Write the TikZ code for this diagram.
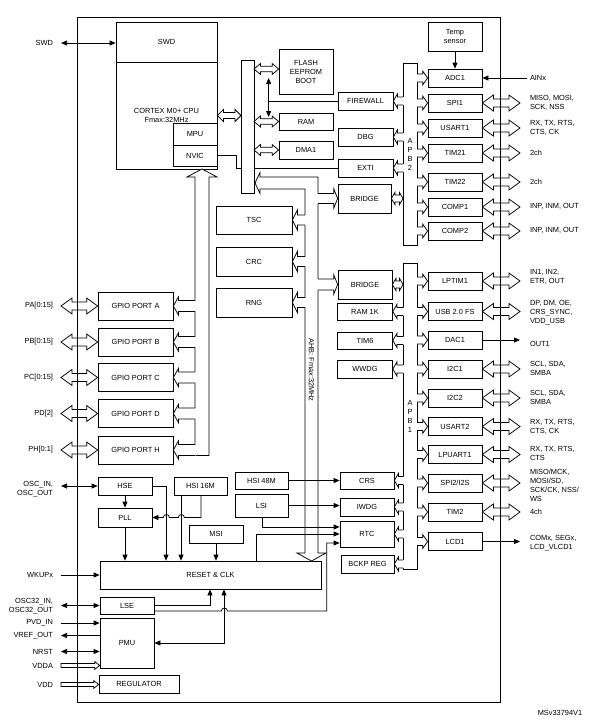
\documentclass[tikz,border=0pt]{standalone}
\usepackage{fontspec}
\setmainfont{Liberation Sans}
\usetikzlibrary{arrows.meta}
\usetikzlibrary{calc}
\usetikzlibrary{positioning}

% hollow bus branch: from #1 (on the bus) to #2 (tip), head length #3, head half width #4, shaft half width #5
\newcommand{\busarrow}[5]{%
  \coordinate (arA) at (#1);
  \coordinate (arB) at (#2);
  \coordinate (arH) at ($(arB)!#3!(arA)$);
  \coordinate (arC) at ($(arA)!1.2pt!180:(arB)$);
  \fill[white] ($(arC)!#5!90:(arB)$) -- ($(arH)!#5!90:(arB)$) -- ($(arH)!#4!90:(arB)$) -- (arB)
    -- ($(arH)!#4!-90:(arB)$) -- ($(arH)!#5!-90:(arB)$) -- ($(arC)!#5!-90:(arB)$) -- cycle;
  \draw ($(arA)!#5!90:(arB)$) -- ($(arH)!#5!90:(arB)$) -- ($(arH)!#4!90:(arB)$) -- (arB)
    -- ($(arH)!#4!-90:(arB)$) -- ($(arH)!#5!-90:(arB)$) -- ($(arA)!#5!-90:(arB)$);
}
% hollow double headed arrow
\newcommand{\dblarrow}[5]{%
  \coordinate (arA) at (#1);
  \coordinate (arB) at (#2);
  \coordinate (arH) at ($(arA)!#3!(arB)$);
  \coordinate (arK) at ($(arB)!#3!(arA)$);
  \filldraw[fill=white] (arA) -- ($(arH)!#4!90:(arB)$) -- ($(arH)!#5!90:(arB)$) -- ($(arK)!#5!-90:(arA)$)
    -- ($(arK)!#4!-90:(arA)$) -- (arB) -- ($(arK)!#4!90:(arA)$) -- ($(arK)!#5!90:(arA)$)
    -- ($(arH)!#5!-90:(arB)$) -- ($(arH)!#4!-90:(arB)$) -- cycle;
}
% hollow single headed supply arrow
\newcommand{\pwrarrow}[5]{%
  \coordinate (arA) at (#1);
  \coordinate (arB) at (#2);
  \coordinate (arH) at ($(arB)!#3!(arA)$);
  \draw ($(arA)!#5!90:(arB)$) -- ($(arH)!#5!90:(arB)$) -- ($(arH)!#4!90:(arB)$) -- (arB)
    -- ($(arH)!#4!-90:(arB)$) -- ($(arH)!#5!-90:(arB)$) -- ($(arA)!#5!-90:(arB)$) -- cycle;
}
\newcommand{\pinarrow}[2]{\dblarrow{#1}{#2}{11pt}{8pt}{4pt}}

\begin{document}
\begin{tikzpicture}[x=1pt, y=-1pt,
      >={Triangle[length=6pt,width=5pt]},
      line width=0.75pt,
      node distance=29pt,
      on grid,
      font=\fontsize{7.4}{9}\selectfont,
      box/.style={draw, fill=white, inner sep=0pt, align=center, minimum height=18pt},
      periph/.style={box, minimum width=54pt},
      gpio/.style={box, minimum width=75pt, minimum height=28pt},
      bus/.style={draw, fill=white, inner sep=0pt, outer sep=0pt, align=center},
      extl/.style={inner sep=0pt, outer xsep=8pt, anchor=east, align=right},
      extr/.style={inner sep=0pt, outer xsep=10pt, anchor=west, align=left}]

    \useasboundingbox (0,0) rectangle (599,723);

    % core
    \node[box, minimum width=101pt, minimum height=40pt]
      (swd) at (166.5,42) {SWD};
    \node[box, minimum width=101pt, minimum height=107pt]
      (cpu) [below=73.5pt of swd] {CORTEX M0+ CPU\\Fmax:32MHz};
    \node[box, minimum width=44pt, minimum height=22pt]
      (mpu) at (195,134) {MPU};
    \node[box, minimum width=44pt, minimum height=21pt]
      (nvic) [below=21.5pt of mpu] {NVIC};

    \node[periph, minimum height=45pt]
      (flash) at (306,71.5) {FLASH\\EEPROM\\BOOT};
    \node[periph, minimum height=17pt]
      (ram) [below=50pt of flash] {RAM};
    \node[periph]
      (dma) [below=28.5pt of ram] {DMA1};
    \node[periph, minimum width=55pt]
      (firewall) at (365.5,101) {FIREWALL};
    \node[periph, minimum width=55pt]
      (dbg) [below=36pt of firewall] {DBG};
    \node[periph, minimum width=55pt]
      (exti) [below=31pt of dbg] {EXTI};
    \node[periph, minimum width=53pt, minimum height=29pt]
      (bridgeA) at (364.5,198.5) {BRIDGE};

    \node[box, minimum width=76pt, minimum height=28pt]
      (tsc) at (254,220) {TSC};
    \node[box, minimum width=76pt, minimum height=29pt]
      (crc) [below=41.5pt of tsc] {CRC};
    \node[box, minimum width=76pt, minimum height=29pt]
      (rng) [below=41pt of crc] {RNG};

    \node[periph, minimum height=29pt]
      (bridgeB) at (365,284.5) {BRIDGE};
    \node[periph, minimum width=55pt, minimum height=17pt]
      (ram1k) [below=27pt of bridgeB] {RAM 1K};
    \node[periph, minimum width=55pt, minimum height=17pt]
      (tim6) [below=of ram1k] {TIM6};
    \node[periph, minimum width=55pt]
      (wwdg) [below=28.5pt of tim6] {WWDG};
    \node[periph, minimum height=17pt]
      (crs) at (367,480.5) {CRS};
    \node[periph]
      (iwdg) [below=26.5pt of crs] {IWDG};
    \node[periph, minimum height=26pt]
      (rtc) [below=27pt of iwdg] {RTC};
    \node[periph, minimum width=53pt]
      (bckp) at (367.5,564) {BCKP REG};
    \node[periph, minimum width=53pt, minimum height=17pt]
      (hsiF) at (261.5,480.5) {HSI 48M};
    \node[periph, minimum width=53pt, minimum height=23pt]
      (lsi) [below=25pt of hsiF] {LSI};

    % APB2 side
    \node[periph, minimum height=29pt]
      (temp) at (455,36.5) {Temp\\sensor};
    \node[periph] (adc) at (455,78) {ADC1};
    \node[periph] (spiA) [below=25pt of adc] {SPI1};
    \node[periph] (usartA) [below=25pt of spiA] {USART1};
    \node[periph] (timA) [below=25pt of usartA] {TIM21};
    \node[periph] (timB) [below=of timA] {TIM22};
    \node[periph] (compA) [below=25pt of timB] {COMP1};
    \node[periph] (compB) [below=24pt of compA] {COMP2};

    % APB1 side
    \node[periph] (lptim) at (455,281) {LPTIM1};
    \node[periph] (usb) [below=30.5pt of lptim] {USB 2.0 FS};
    \node[periph] (dac) [below=28.5pt of usb] {DAC1};
    \node[periph] (i2cA) [below=of dac] {I2C1};
    \node[periph] (i2cB) [below=of i2cA] {I2C2};
    \node[periph] (usartB) [below=28.5pt of i2cB] {USART2};
    \node[periph] (lpuart) [below=28pt of usartB] {LPUART1};
    \node[periph] (spiB) [below=28.5pt of lpuart] {SPI2/I2S};
    \node[periph] (timC) [below=of spiB] {TIM2};
    \node[periph] (lcd) [below=29.5pt of timC] {LCD1};

    % GPIO
    \node[gpio] (gpioA) at (135.5,306) {GPIO PORT A};
    \node[gpio] (gpioB) [below=36pt of gpioA] {GPIO PORT B};
    \node[gpio] (gpioC) [below=35.5pt of gpioB] {GPIO PORT C};
    \node[gpio] (gpioD) [below=36pt of gpioC] {GPIO PORT D};
    \node[gpio] (gpioH) [below=36.5pt of gpioD] {GPIO PORT H};

    % clocks and power
    \node[periph] (hse) at (125,486) {HSE};
    \node[periph, minimum height=19pt] (pll) [below=31.5pt of hse] {PLL};
    \node[periph, minimum width=53pt] (hsiS) at (200.5,486) {HSI 16M};
    \node[periph] (msi) at (216,534) {MSI};
    \node[box, minimum width=221pt, minimum height=28pt] (rcc) at (210.5,575) {RESET \& CLK};
    \node[periph, minimum height=17pt] (lse) at (127,605.5) {LSE};
    \node[periph, minimum height=50pt] (pmu) [below=37.5pt of lse] {PMU};
    \node[box, minimum width=80pt] (reg) at (139,684) {REGULATOR};

    % pins
    \node[extl] (swdl) at (61,43) {SWD};
    \node[extl] (pinA) at (61,306) {PA[0:15]};
    \node[extl] (pinB) at (61,342) {PB[0:15]};
    \node[extl] (pinC) at (61,377.5) {PC[0:15]};
    \node[extl] (pinD) at (61,413.5) {PD[2]};
    \node[extl] (pinH) at (61,450) {PH[0:1]};
    \node[extl] (osc) at (61,489.5) {OSC\_IN,\\OSC\_OUT};
    \node[extl] (wkup) at (61,575) {WKUPx};
    \node[extl] (osct) at (61,606.5) {OSC32\_IN,\\OSC32\_OUT};
    \node[extl] (pvd) at (61,623) {PVD\_IN};
    \node[extl] (vref) at (61,635.5) {VREF\_OUT};
    \node[extl] (nrst) at (61,651.5) {NRST};
    \node[extl] (vdda) at (61,665.5) {VDDA};
    \node[extl] (vdd) at (61,684.5) {VDD};

    \node[extr, outer xsep=3pt] (ainx) at (527,78) {AINx};
    \node[extr] (misoA) at (520,102.5) {MISO, MOSI,\\SCK, NSS};
    \node[extr] (rxA) at (520,128) {RX, TX, RTS,\\CTS, CK};
    \node[extr] (chA) at (520,153) {2ch};
    \node[extr] (chB) at (520,182) {2ch};
    \node[extr] (inpA) at (520,206.5) {INP, INM, OUT};
    \node[extr] (inpB) at (520,230.5) {INP, INM, OUT};
    \node[extr] (inA) at (520,277) {IN1, IN2,\\ETR, OUT};
    \node[extr] (dp) at (520,313) {DP, DM, OE,\\CRS\_SYNC,\\VDD\_USB};
    \node[extr] (out1) at (520,344) {OUT1};
    \node[extr] (sclA) at (520,368) {SCL, SDA,\\SMBA};
    \node[extr] (sclB) at (520,397.5) {SCL, SDA,\\SMBA};
    \node[extr] (rxB) at (520,427) {RX, TX, RTS,\\CTS, CK};
    \node[extr] (rxC) at (520,453) {RX, TX, RTS,\\CTS};
    \node[extr] (misoB) at (520,485) {MISO/MCK,\\MOSI/SD,\\SCK/CK, NSS/\\WS};
    \node[extr] (chC) at (520,512) {4ch};
    \node[extr] (com) at (520,543.5) {COMx, SEGx,\\LCD\_VLCD1};

    \node (msv) at (560,713) {MSv33794V1};

    % bus matrix
    \draw (nvic.east) -- ++(19pt,0) |- (exti.west);
    \node[bus, minimum width=13pt, minimum height=133pt]
      (busbar) at (247.5,126.5) {};
    \node[bus, minimum width=14pt, minimum height=182pt]
      (apbtwo) at (410,154) {A\\P\\B\\2};
    \node[bus, minimum width=14pt, minimum height=306.5pt]
      (apbone) at (410,416.25) {A\\P\\B\\1};

    \coordinate (fl) at ([yshift=2.5pt]flash.west);
    \dblarrow{cpu.east}{cpu.east -| busbar.west}{6pt}{6pt}{3pt}
    \dblarrow{fl -| busbar.east}{fl}{6.5pt}{5.5pt}{2.7pt}
    \dblarrow{ram.west -| busbar.east}{ram.west}{6.5pt}{5.5pt}{2.7pt}
    \dblarrow{dma.west -| busbar.east}{dma.west}{6.5pt}{5.5pt}{2.7pt}
    \draw[<->] ([xshift=-10pt,yshift=-6.5pt]flash.west) -- ([xshift=-10pt,yshift=4.5pt]ram.west);
    \draw ([xshift=-69pt]firewall.west) -- (firewall.west);

    % AHB and IOPORT
    \draw[fill=white] (255,183) -- (260,172.5) -- (260,177) -- (318,177) -- (318,553)
      -- (326,553) -- (311.5,561) -- (297,553) -- (305,553) -- (305,189)
      -- (260,189) -- (260,193.5) -- cycle;
    \draw[fill=white] (202,169) -- (217,177) -- (209,177) -- (209,455.5)
      -- (195,455.5) -- (195,177) -- (187,177) -- cycle;
    \coordinate (ahbL) at (305,0);
    \coordinate (ahbR) at (318,0);
    \coordinate (iobus) at (195,0);
    \node[rotate=-90] (ahbtxt) at (311.5,370) {AHB: Fmax:32MHz};

    \busarrow{bridgeA.west -| ahbR}{bridgeA.west}{4pt}{10pt}{5pt}
    \busarrow{bridgeB.west -| ahbR}{bridgeB.west}{4pt}{10pt}{5.5pt}
    \foreach \n in {tsc,crc,rng}
      \busarrow{\n.east -| ahbL}{\n.east}{5pt}{10pt}{5pt};
    \foreach \n in {gpioA,gpioB,gpioC,gpioD,gpioH}
      \busarrow{\n.east -| iobus}{\n.east}{5pt}{9pt}{5.5pt};

    % APB branches
    \dblarrow{bridgeA.east}{bridgeA.east -| apbtwo.west}{3.5pt}{6pt}{3.5pt}
    \dblarrow{bridgeB.east}{bridgeB.east -| apbone.west}{3.5pt}{6pt}{3.5pt}
    \foreach \n in {firewall,dbg,exti}
      \busarrow{\n.east -| apbtwo.west}{\n.east}{4pt}{7pt}{4pt};
    \foreach \n in {adc,spiA,usartA,timA,timB,compA,compB}
      \busarrow{\n.west -| apbtwo.east}{\n.west}{5pt}{7pt}{4pt};
    \foreach \n in {ram1k,tim6,wwdg,crs,iwdg,rtc,bckp}
      \busarrow{\n.east -| apbone.west}{\n.east}{4pt}{7pt}{4pt};
    \foreach \n in {lptim,usb,dac,i2cA,i2cB,usartB,lpuart,spiB,timC,lcd}
      \busarrow{\n.west -| apbone.east}{\n.west}{5pt}{7pt}{4pt};

    % clock tree
    \draw[<->] (hse.west -| osc.east) -- (hse.west);
    \draw[->] (hse.south) -- (pll.north);
    \draw[->] (pll.south) -- ([xshift=-85.5pt]rcc.north);
    \draw[->] (hse.east) -| ([xshift=-44.5pt]rcc.north);
    \draw[->] ([xshift=-19.5pt]hsiS.south) -- ([xshift=-29.5pt]rcc.north);
    \draw[->] ([xshift=.5pt]hsiS.south) |- ([xshift=32pt]pll.east)
      arc[start angle=0, end angle=180, radius=3pt] -- ([xshift=17pt]pll.east)
      arc[start angle=0, end angle=180, radius=3pt] -- (pll.east);
    \draw[->] (msi.south) -- ([xshift=5.5pt]rcc.north);
    \draw[->] (hsiF.east) -- (crs.west);
    \draw[->] (lsi.east) -- (lsi.east -| iwdg.west);
    \draw[->] ([xshift=.5pt]lsi.south) |- ([yshift=7pt]rtc.west);
    \draw[->] ([xshift=45.5pt]rcc.north) |- (rtc.west);
    \draw[->] (lse.east) -| ([xshift=-.5pt]rcc.south);
    \draw[->] ([yshift=-5.5pt]lse.east) -- ([xshift=67pt,yshift=-5.5pt]lse.east)
      arc[start angle=180, end angle=0, radius=3pt]
      -| ([xshift=-13pt,yshift=-9pt]rtc.west) -- ([yshift=-9pt]rtc.west);
    \draw[<->] (pmu.east) -| ([xshift=13.5pt]rcc.south);

    % pins left
    \draw[<->] (swdl.east) -- (swdl.east -| swd.west);
    \pinarrow{pinA.east}{gpioA.west}
    \pinarrow{pinB.east}{gpioB.west}
    \pinarrow{pinC.east}{gpioC.west}
    \pinarrow{pinD.east}{gpioD.west}
    \pinarrow{pinH.east}{gpioH.west}
    \draw[->] (wkup.east) -- (wkup.east -| rcc.west);
    \draw[<->] (lse.west -| osct.east) -- (lse.west);
    \draw[->] (pvd.east) -- (pvd.east -| pmu.west);
    \draw[->] (vref.east -| pmu.west) -- (vref.east);
    \draw[<->] (nrst.east) -- (nrst.east -| pmu.west);
    \pwrarrow{vdda.east}{vdda.east -| pmu.west}{5pt}{4pt}{2pt}
    \pwrarrow{vdd.east}{vdd.east -| reg.west}{5pt}{4pt}{2pt}

    % pins right
    \draw[->] (temp.south) -- (adc.north);
    \draw[->] (ainx.west) -- (adc.east);
    \pinarrow{spiA.east}{spiA.east -| misoA.west}
    \pinarrow{usartA.east}{usartA.east -| rxA.west}
    \pinarrow{timA.east}{timA.east -| chA.west}
    \pinarrow{timB.east}{timB.east -| chB.west}
    \pinarrow{compA.east}{compA.east -| inpA.west}
    \pinarrow{compB.east}{compB.east -| inpB.west}
    \pinarrow{lptim.east}{lptim.east -| inA.west}
    \pinarrow{usb.east}{usb.east -| dp.west}
    \draw[->] (dac.east) -- (dac.east -| out1.west);
    \pinarrow{i2cA.east}{i2cA.east -| sclA.west}
    \pinarrow{i2cB.east}{i2cB.east -| sclB.west}
    \pinarrow{usartB.east}{usartB.east -| rxB.west}
    \pinarrow{lpuart.east}{lpuart.east -| rxC.west}
    \pinarrow{spiB.east}{spiB.east -| misoB.west}
    \pinarrow{timC.east}{timC.east -| chC.west}
    \draw[->] (lcd.east) -- (lcd.east -| com.west);

    % chip outline
    \draw (77,17) rectangle (500,702);

  \end{tikzpicture}
\end{document}
